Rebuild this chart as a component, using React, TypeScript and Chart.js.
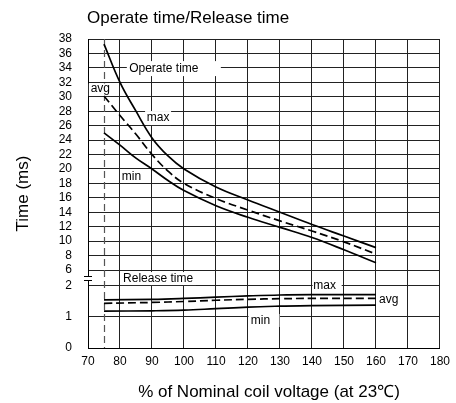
import React, { useEffect, useRef } from "react";
import { Chart, registerables } from "chart.js";

Chart.register(...registerables);

// ---- data ----
const operateVoltage = [75, 80, 85, 90, 95, 100, 110, 120, 130, 140, 150, 160];
const operateMax = [37.3, 32, 28, 24.3, 21.8, 20, 17.5, 15.7, 14.0, 12.3, 10.7, 9.1];
const operateAvg = [30.1, 27.4, 24.8, 22, 19.7, 18.0, 15.9, 14.3, 12.8, 11.4, 9.9, 8.2];
const operateMin = [25, 23.3, 21.5, 20, 18.4, 17.0, 14.9, 13.3, 11.9, 10.5, 8.8, 7.0];

const releaseVoltage = [75, 90, 100, 110, 120, 130, 140, 160];
const releaseMax = [1.55, 1.57, 1.6, 1.64, 1.68, 1.71, 1.72, 1.72];
const releaseAvg = [1.44, 1.47, 1.5, 1.54, 1.57, 1.59, 1.6, 1.6];
const releaseMin = [1.19, 1.2, 1.22, 1.27, 1.32, 1.35, 1.37, 1.38];

const xTicks = [70, 80, 90, 100, 110, 120, 130, 140, 150, 160, 170, 180];
const upperTicks = [6, 8, 10, 12, 14, 16, 18, 20, 22, 24, 26, 28, 30, 32, 34, 36, 38];
const lowerTicks = [0, 1, 2];
const minVoltageMark = 75;

const titleText = "Operate time/Release time";
const yTitle = "Time (ms)";
const xTitle = "% of Nominal coil voltage (at 23\u2103)";

// annotations: text, x value, y value, axis, box offsets [left, right, top, bottom] in px
const notes: { text: string; x: number; y: number; axis: string; box: number[] }[] = [
  { text: "Operate time", x: 93.7, y: 33.9, axis: "yHigh", box: [-37, 57, -7.5, 7.5] },
  { text: "avg", x: 73.85, y: 31.07, axis: "yHigh", box: [-11.5, 10.5, -5.5, 7] },
  { text: "max", x: 91.9, y: 27.05, axis: "yHigh", box: [-13, 13, -7, 7] },
  { text: "min", x: 83.6, y: 18.9, axis: "yHigh", box: [-10.5, 12, -7, 5] },
  { text: "Release time", x: 91.9, y: 2.24, axis: "yLow", box: [-38, 38, -6.5, 6.5] },
  { text: "max", x: 143.96, y: 2.016, axis: "yLow", box: [-12, 17, -6.5, 6.5] },
  { text: "avg", x: 164, y: 1.55, axis: "yLow", box: [-11, 12, -6, 6] },
  { text: "min", x: 123.9, y: 0.887, axis: "yLow", box: [-12, 19, -6.5, 6.5] },
];

const FONT = '"Liberation Sans", Arial, Helvetica, sans-serif';

const pts = (xs: number[], ys: number[]) => xs.map((x, i) => ({ x, y: ys[i] }));

const annotPlugin = {
  id: "annot",
  beforeDatasetsDraw(chart: any) {
    const { ctx, chartArea, scales } = chart;
    ctx.save();
    // dashed vertical line at minimum voltage
    const vx = Math.round(scales.x.getPixelForValue(minVoltageMark)) + 0.5;
    ctx.strokeStyle = "#555";
    ctx.lineWidth = 1.2;
    ctx.setLineDash([7, 4]);
    ctx.beginPath();
    ctx.moveTo(vx, chartArea.top);
    ctx.lineTo(vx, chartArea.bottom);
    ctx.stroke();
    ctx.setLineDash([]);
    // labels with white boxes
    ctx.font = "12px " + FONT;
    ctx.textAlign = "center";
    ctx.textBaseline = "middle";
    for (const n of notes) {
      const px = scales.x.getPixelForValue(n.x);
      const py = scales[n.axis].getPixelForValue(n.y);
      ctx.fillStyle = "#fff";
      ctx.fillRect(px + n.box[0], py + n.box[2], n.box[1] - n.box[0], n.box[3] - n.box[2]);
      ctx.fillStyle = "#000";
      ctx.fillText(n.text, px, py);
    }
    ctx.restore();
  },
  afterDraw(chart: any) {
    const { ctx, chartArea, scales } = chart;
    ctx.save();
    ctx.fillStyle = "#000";
    ctx.font = "17px " + FONT;
    ctx.textAlign = "left";
    ctx.textBaseline = "alphabetic";
    ctx.fillText(titleText, chartArea.left - 1, 23);
    ctx.textAlign = "center";
    ctx.fillText(xTitle, (chartArea.left + chartArea.right) / 2 + 5, 397);
    ctx.save();
    ctx.translate(23, (chartArea.top + chartArea.bottom) / 2);
    ctx.rotate(-Math.PI / 2);
    ctx.textBaseline = "middle";
    ctx.fillText(yTitle, 0, 0);
    ctx.restore();
    // axis break mark
    const by = (scales.yHigh.getPixelForValue(6) + scales.yLow.getPixelForValue(2)) / 2;
    const bx = chartArea.left;
    ctx.fillStyle = "#fff";
    ctx.fillRect(bx - 2, by - 2, 4, 4);
    ctx.strokeStyle = "#000";
    ctx.lineWidth = 1;
    ctx.beginPath();
    ctx.moveTo(bx - 4, Math.round(by - 2) + 0.5);
    ctx.lineTo(bx + 4, Math.round(by - 2) + 0.5);
    ctx.moveTo(bx - 4, Math.round(by + 2) + 0.5);
    ctx.lineTo(bx + 4, Math.round(by + 2) + 0.5);
    ctx.stroke();
    ctx.restore();
  },
};

export default function App() {
  const ref = useRef<HTMLCanvasElement | null>(null);
  useEffect(() => {
    if (!ref.current) return;
    const line = (data: any, axis: string, dashed: boolean) => ({
      data,
      yAxisID: axis,
      borderColor: "#000",
      borderWidth: 1.7,
      borderDash: dashed ? [8, 4] : [],
      pointRadius: 0,
      tension: 0.4,
      fill: false,
    });
    const tickFont = { family: FONT, size: 12 };
    const grid = { color: "#222", lineWidth: 1, drawTicks: false };
    const chart = new Chart(ref.current, {
      type: "line",
      data: {
        datasets: [
          line(pts(operateVoltage, operateMax), "yHigh", false),
          line(pts(operateVoltage, operateAvg), "yHigh", true),
          line(pts(operateVoltage, operateMin), "yHigh", false),
          line(pts(releaseVoltage, releaseMax), "yLow", false),
          line(pts(releaseVoltage, releaseAvg), "yLow", true),
          line(pts(releaseVoltage, releaseMin), "yLow", false),
        ] as any,
      },
      options: {
        responsive: false,
        animation: false,
        layout: { padding: { top: 39, right: 11, left: 0, bottom: 0 } },
        plugins: { legend: { display: false }, tooltip: { enabled: false }, title: { display: false } },
        scales: {
          x: {
            type: "linear",
            min: xTicks[0],
            max: xTicks[xTicks.length - 1],
            afterBuildTicks: (s: any) => { s.ticks = xTicks.map((v) => ({ value: v })); },
            ticks: { font: tickFont, color: "#000", padding: 6, maxRotation: 0, autoSkip: false },
            grid,
            border: { color: "#000", width: 1 },
            afterFit: (s: any) => { s.height = 55; },
          },
          yHigh: {
            type: "linear",
            position: "left",
            stack: "y",
            stackWeight: 231,
            weight: 1,
            min: upperTicks[0],
            max: upperTicks[upperTicks.length - 1],
            afterBuildTicks: (s: any) => { s.ticks = upperTicks.map((v) => ({ value: v })); },
            ticks: { font: tickFont, color: "#000", padding: 16, autoSkip: false },
            grid,
            border: { color: "#000", width: 1 },
            afterFit: (s: any) => { s.width = 88; },
          },
          yLow: {
            type: "linear",
            position: "left",
            stack: "y",
            stackWeight: 78,
            weight: 0,
            min: lowerTicks[0],
            max: 2.516,
            afterBuildTicks: (s: any) => { s.ticks = lowerTicks.map((v) => ({ value: v })); },
            ticks: { font: tickFont, color: "#000", padding: 16, autoSkip: false },
            grid,
            border: { color: "#000", width: 1 },
            afterFit: (s: any) => { s.width = 88; },
          },
        } as any,
      },
      plugins: [annotPlugin],
    });
    return () => chart.destroy();
  }, []);
  return (
    <div style={{ position: "absolute", left: 0, top: 0, width: 456, height: 403, background: "#fff" }}>
      <canvas ref={ref} width={456} height={403} style={{ display: "block" }} />
    </div>
  );
}
